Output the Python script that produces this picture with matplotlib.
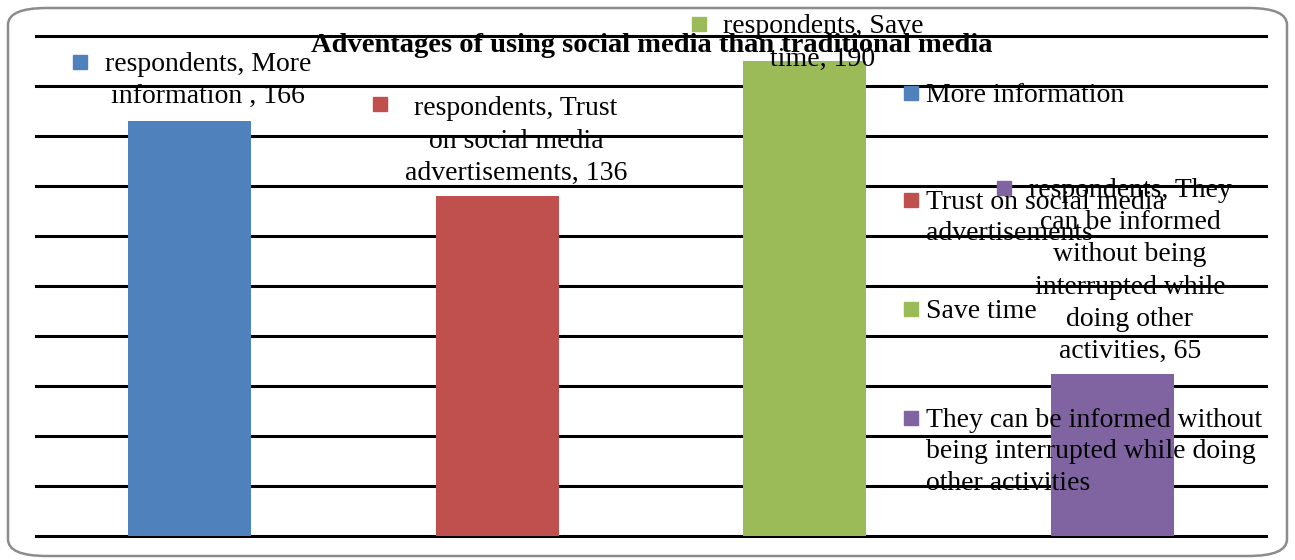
import matplotlib
matplotlib.use('Agg')
import matplotlib.pyplot as plt
from matplotlib.patches import FancyBboxPatch
import numpy as np

# data
categories = ['More information',
              'Trust on social media\nadvertisements',
              'Save time',
              'They can be informed without\nbeing interrupted while doing\nother activities']
values = [166, 136, 190, 65]
colors = ['#4F81BD', '#C0504D', '#9BBB59', '#8064A2']
series_name = 'respondents'
data_labels = ['respondents, More\ninformation , 166',
               'respondents, Trust\non social media\nadvertisements, 136',
               'respondents, Save\ntime, 190',
               'respondents, They\ncan be informed\nwithout being\ninterrupted while\ndoing other\nactivities, 65']
title = 'Adventages of using social media than traditional media'

W, H = 1295, 560
plt.rcParams['font.family'] = ['Liberation Serif', 'DejaVu Serif']

def fx(px):
    return px / W

def fy(py):
    return 1 - py / H

fig = plt.figure(figsize=(W / 100, H / 100), dpi=100, facecolor='white')

# rounded outer frame
frame = FancyBboxPatch((fx(8), fy(556)), fx(1287) - fx(8), fy(8) - fy(556),
                       boxstyle='round,pad=0,rounding_size=0.03',
                       transform=fig.transFigure, facecolor='none',
                       edgecolor='#8c8c8c', linewidth=1.8, zorder=-1)
fig.patches.append(frame)

ax = fig.add_axes([fx(36), fy(536), fx(1266) - fx(36), fy(36) - fy(536)])
ax.set_facecolor('none')
x = np.arange(len(values))
ax.bar(x, values, width=0.4, color=colors, zorder=2)
ax.set_xlim(-0.5, len(values) - 0.5)
ax.set_ylim(0, 200)
ax.set_yticks(np.arange(0, 201, 20))
ax.set_xticks([])
ax.tick_params(axis='y', length=0, labelleft=False)
ax.grid(axis='y', color='black', linewidth=2.2, zorder=1)
for gl in ax.get_ygridlines():
    gl.set_clip_on(False)
ax.set_axisbelow(True)
for s in ax.spines.values():
    s.set_visible(False)

fs = 20
ls = 1.38

# data labels (block centre in pixels, key square in pixels)
label_pos = [(208, 81), (516, 141), (823, 43), (1130, 271)]
key_pos = [(80, 62), (380, 104), (699, 24), (1004, 188)]
for i, lab in enumerate(data_labels):
    fig.text(fx(label_pos[i][0]), fy(label_pos[i][1]), lab, ha='center', va='center',
             multialignment='center', fontsize=fs, linespacing=ls, zorder=5)
    fig.add_artist(plt.Line2D([fx(key_pos[i][0])], [fy(key_pos[i][1])], marker='s',
                              markersize=9.5, color=colors[i], linestyle='none',
                              transform=fig.transFigure, zorder=5))

# legend drawn by hand, evenly spaced like the original
leg_y = [93, 200, 309, 418]
for i, cat in enumerate(categories):
    fig.add_artist(plt.Line2D([fx(911)], [fy(leg_y[i])], marker='s', markersize=9.5,
                              color=colors[i], linestyle='none',
                              transform=fig.transFigure, zorder=5))
    fig.text(fx(926), fy(leg_y[i] - 10), cat, ha='left', va='top', fontsize=fs,
             linespacing=1.33, zorder=5)

fig.text(fx(652), fy(45), title, ha='center', va='center', fontsize=20.5,
         fontweight='bold', zorder=5)

fig.savefig('out.png', dpi=100)
